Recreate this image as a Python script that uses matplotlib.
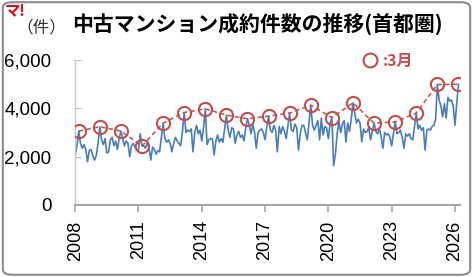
import numpy as np
import matplotlib.pyplot as plt
from matplotlib.lines import Line2D
from matplotlib.patches import FancyBboxPatch
from matplotlib.ticker import FuncFormatter

# 首都圏 中古マンション 月次成約件数 (2008年1月〜2026年3月, 画像から読み取り)
start_year = 2008
monthly_counts = [
    2070, 2450, 3060, 2550, 2350, 2500, 2300, 1790, 2250, 2300, 2050, 1860,  # 2008
    2050, 2550, 3240, 2700, 2500, 2750, 2150, 2200, 2700, 2800, 2450, 2650,  # 2009
    2300, 2750, 3060, 2750, 2450, 2650, 2550, 2000, 2450, 2550, 2400, 2300,  # 2010
    2250, 2950, 2440, 2450, 2350, 2600, 2350, 1860, 2400, 2300, 2100, 2250,  # 2011
    2200, 2800, 3390, 2750, 2600, 2700, 2550, 2200, 2550, 2800, 2650, 2550,  # 2012
    2450, 3050, 3830, 3000, 3100, 3050, 3150, 2200, 3000, 3300, 2950, 3100,  # 2013
    2650, 3200, 3980, 2500, 2700, 2750, 2750, 2070, 2650, 2900, 2600, 2750,  # 2014
    2600, 3150, 3720, 3100, 2800, 3200, 3150, 2560, 2900, 3050, 2800, 2900,  # 2015
    2650, 3200, 3570, 3300, 2950, 3350, 3000, 2350, 3000, 3100, 3150, 3000,  # 2016
    2700, 3250, 3680, 3100, 3000, 3300, 3100, 2200, 3250, 2950, 3250, 3050,  # 2017
    2750, 3300, 3810, 3100, 3050, 3350, 3200, 2270, 2950, 3300, 3300, 3000,  # 2018
    2700, 3400, 4130, 3300, 3100, 3300, 3500, 2700, 3600, 2900, 3250, 3200,  # 2019
    2750, 3400, 3620, 1630, 2100, 2950, 3450, 3000, 3350, 3500, 2600, 3400,  # 2020
    3050, 3550, 4230, 3800, 3400, 3550, 3400, 2620, 3150, 3000, 3050, 3200,  # 2021
    2700, 3050, 3390, 3050, 2950, 3150, 2850, 2350, 3000, 2900, 2950, 2800,  # 2022
    2450, 2950, 3440, 2950, 3000, 3100, 2800, 2350, 2950, 2850, 2950, 2750,  # 2023
    2700, 3250, 3810, 3150, 3300, 3100, 3200, 2270, 3100, 3150, 3100, 3250,  # 2024
    3300, 3550, 4990, 4350, 4100, 3650, 4200, 3600, 4450, 4300, 4350, 4100,  # 2025
    3300, 4200, 5000,                                                        # 2026
]
tick_years = [2008, 2011, 2014, 2017, 2020, 2023, 2026]
y_ticks = [0, 2000, 4000, 6000]

BLUE = '#4a7ebb'
RED = '#c0504d'
GRAY = '#a6a6a6'
JP = ['Noto Sans CJK JP', 'DejaVu Sans']

plt.rcParams['font.family'] = ['Liberation Sans', 'Noto Sans CJK JP', 'DejaVu Sans']

counts = np.array(monthly_counts)
x = start_year + np.arange(len(counts)) / 12.0
# 3月の値
mar_x = x[2::12]
mar_y = counts[2::12]

fig = plt.figure(figsize=(4.73, 2.77), dpi=100)
ax = fig.add_axes([0.159, 0.26, 0.814, 0.523])

ax.plot(x, counts, color=BLUE, lw=1.2, zorder=2)
ax.plot(mar_x, mar_y, color=RED, lw=1.1, ls=(0, (3, 2)), marker='o', ms=9.5,
        mfc='none', mec=RED, mew=1.5, zorder=3)

ax.set_xlim(2008, 2026.25)
ax.set_ylim(0, 6000)
ax.set_xticks(tick_years)
ax.set_xticklabels([str(y) for y in tick_years], rotation=90, fontsize=13)
ax.set_yticks(y_ticks)
ax.yaxis.set_major_formatter(FuncFormatter(lambda v, p: f'{int(v):,}'))
ax.tick_params(axis='y', direction='in', length=4, color='#bfbfbf', labelsize=13.5, pad=17)
ax.tick_params(axis='x', direction='out', length=5, width=1.2, color=GRAY, pad=6)

for s in ['top', 'right']:
    ax.spines[s].set_visible(False)
ax.spines['left'].set_color('#c8c8c8')
ax.spines['left'].set_linewidth(1.0)
ax.spines['bottom'].set_color(GRAY)
ax.spines['bottom'].set_linewidth(1.5)

# タイトル・単位・ロゴ
fig.text(72 / 473, 1 - 24 / 277, '中古マンション成約件数の推移(首都圏)',
         fontsize=15, fontweight='bold', family=JP, ha='left', va='center')
fig.text(41 / 473, 1 - 28 / 277, '（件）', fontsize=12, color='#333333',
         family=JP, ha='center', va='center')
fig.text(5 / 473, 1 - 10 / 277, 'マ!', fontsize=11, fontweight='bold', color='#e60012',
         family=JP, ha='left', va='center')

# 凡例 ○:3月
handle = Line2D([], [], ls='none', marker='o', ms=10, mfc='none', mec=RED, mew=1.5)
leg = fig.legend([handle], [':3月'], loc='center left',
                 bbox_to_anchor=(362 / 473, 1 - 61 / 277), frameon=False,
                 handlelength=1.0, handletextpad=0.3, borderpad=0, borderaxespad=0,
                 prop={'family': JP, 'size': 11.5, 'weight': 'bold'})
for t in leg.get_texts():
    t.set_color(RED)

# 外枠
frame = FancyBboxPatch((0.006, 0.008), 0.988, 0.984, boxstyle='round,pad=0,rounding_size=0.02',
                       transform=fig.transFigure, fill=False, ec='#8c8c8c', lw=1.5)
fig.patches.append(frame)

fig.savefig('out.png', dpi=100)
